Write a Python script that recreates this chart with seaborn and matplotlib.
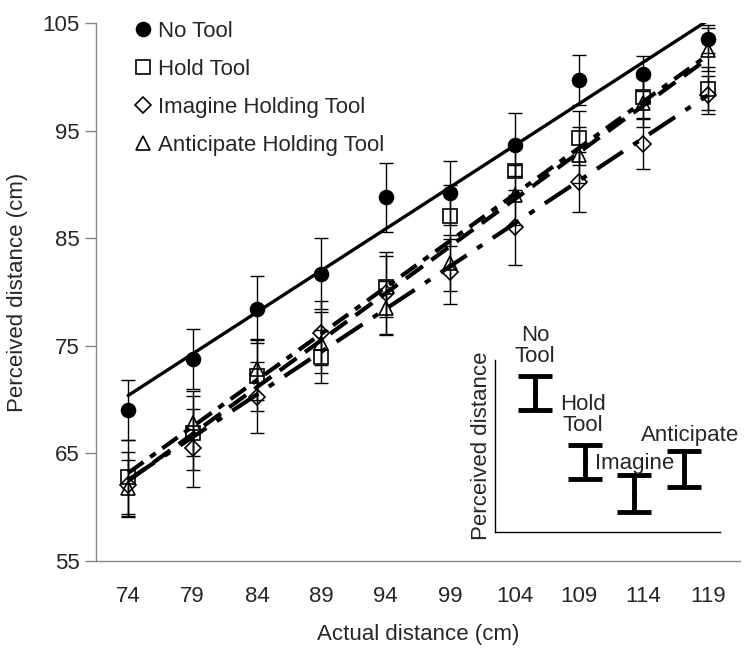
import numpy as np
import matplotlib
matplotlib.use("Agg")
import matplotlib.pyplot as plt
import seaborn as sns

# ---- data ----
actual = [74, 79, 84, 89, 94, 99, 104, 109, 114, 119]
series_names = ["No Tool", "Hold Tool", "Imagine Holding Tool", "Anticipate Holding Tool"]
no_tool = [69.0, 73.8, 78.4, 81.7, 88.8, 89.2, 93.7, 99.7, 100.3, 103.5]
hold_tool = [62.8, 66.9, 72.2, 74.0, 80.5, 87.1, 91.2, 94.3, 98.1, 98.9]
imagine = [62.1, 65.5, 70.2, 76.2, 79.9, 81.9, 86.0, 90.2, 93.8, 98.3]
anticipate = [61.8, 67.8, 72.8, 75.3, 78.5, 82.7, 89.0, 92.7, 97.6, 102.5]
no_tool_err = [2.8, 2.8, 3.1, 3.3, 3.2, 3.0, 2.9, 2.3, 1.6, 1.3]
hold_tool_err = [3.4, 3.4, 3.3, 2.5, 2.8, 2.8, 2.2, 2.5, 2.0, 2.0]
imagine_err = [3.0, 3.6, 3.3, 3.0, 3.8, 3.0, 3.5, 2.8, 2.4, 1.8]
anticipate_err = [2.6, 3.0, 2.8, 2.8, 2.5, 2.6, 2.8, 2.6, 2.3, 2.0]
y_ticks = [55, 65, 75, 85, 95, 105]

inset_labels = ["No\nTool", "Hold\nTool", "Imagine", "Anticipate"]
inset_means = [13.9, 7.0, 3.85, 6.3]
inset_errs = [1.7, 1.7, 1.85, 1.8]

# ---- style ----
sns.set_style("white")
plt.rcParams["font.family"] = ["Liberation Sans", "DejaVu Sans"]
FS = 16
GRAY = "#868686"

fig = plt.figure(figsize=(7.5, 6.5), dpi=100)
ax = fig.add_axes([96 / 750, (650 - 561) / 650, (740 - 96) / 750, (561 - 23) / 650])

values = [no_tool, hold_tool, imagine, anticipate]
errors = [no_tool_err, hold_tool_err, imagine_err, anticipate_err]
markers = ["o", "s", "D", "^"]
msizes = [10, 10, 8.5, 10]
filled = [True, False, False, False]
line_styles = [
    dict(linestyle="-", lw=2.4),
    dict(lw=3.0, dashes=(4.5, 2.0, 1.6, 2.0)),
    dict(lw=3.0, dashes=(7.5, 3.0, 1.5, 3.0)),
    dict(lw=3.0, dashes=(5.0, 2.5)),
]

for vals, ls in zip(values, line_styles):
    sns.regplot(x=np.array(actual, dtype=float), y=np.array(vals), ax=ax,
                scatter=False, ci=None, truncate=True, color="black",
                line_kws=ls)

handles = []
for name, vals, errs, m, ms, f in zip(series_names, values, errors, markers, msizes, filled):
    ax.errorbar(actual, vals, yerr=errs, fmt="none", ecolor="black",
                elinewidth=1.0, capsize=5, capthick=1.0, zorder=3)
    h, = ax.plot(actual, vals, linestyle="none", marker=m, markersize=ms,
                 markerfacecolor="black" if f else "none",
                 markeredgecolor="black", markeredgewidth=1.2, zorder=4,
                 label=name)
    handles.append(h)

ax.set_xlim(71.5, 121.5)
ax.set_ylim(55, 105)
ax.set_xticks(actual)
ax.set_xticklabels([str(a) for a in actual])
ax.set_xticks(np.array(actual[1:] + [124]) - 2.5, minor=True)
ax.tick_params(axis="x", which="major", length=0, pad=18, labelsize=FS)
ax.tick_params(axis="x", which="minor", length=6, color=GRAY, width=1, direction="out")
ax.set_yticks(y_ticks)
ax.tick_params(axis="y", which="major", length=8, color=GRAY, width=1,
               direction="out", pad=4, labelsize=FS)
ax.tick_params(left=True, bottom=True)
for s in ["top", "right"]:
    ax.spines[s].set_visible(False)
for s in ["left", "bottom"]:
    ax.spines[s].set_color(GRAY)
    ax.spines[s].set_linewidth(1)

ax.set_xlabel("Actual distance (cm)", fontsize=FS, labelpad=12)
ax.set_ylabel("Perceived distance (cm)", fontsize=FS, labelpad=10)

leg = ax.legend(handles=handles, loc="upper left",
                bbox_to_anchor=(132 / 750, 1 - 21 / 650),
                bbox_transform=fig.transFigure, frameon=False,
                borderpad=0, borderaxespad=0, handlelength=0.95,
                handletextpad=0.2, labelspacing=0.76, fontsize=FS)

# ---- inset schematic ----
axi = fig.add_axes([495 / 750, (650 - 532) / 650, 225 / 750, 172 / 650])
pos = np.arange(1, len(inset_means) + 1)
axi.errorbar(pos, inset_means, yerr=inset_errs, fmt="none", ecolor="black",
             elinewidth=3.5, capsize=12, capthick=3.5)
axi.plot(pos, inset_means, linestyle="none", marker="o", markersize=2.5,
         color="black")
axi.set_xlim(0.2, 4.72)
axi.set_ylim(0, 17.2)
axi.set_xticks([])
axi.set_yticks([])
axi.set_facecolor("none")
for s in ["top", "right"]:
    axi.spines[s].set_visible(False)
for s in ["left", "bottom"]:
    axi.spines[s].set_color("black")
    axi.spines[s].set_linewidth(1)
axi.set_ylabel("Perceived distance", fontsize=FS, labelpad=2)

label_offsets = [(0.0, 3.0), (-0.03, 3.0), (0.01, 1.2), (0.12, 1.6)]
for p, lab, mval, e, (dx, dy) in zip(pos, inset_labels, inset_means, inset_errs, label_offsets):
    axi.text(p + dx, mval + e + dy, lab, ha="center", va="center",
             fontsize=FS, linespacing=1.0, clip_on=False)

fig.savefig("out.png", dpi=100)
